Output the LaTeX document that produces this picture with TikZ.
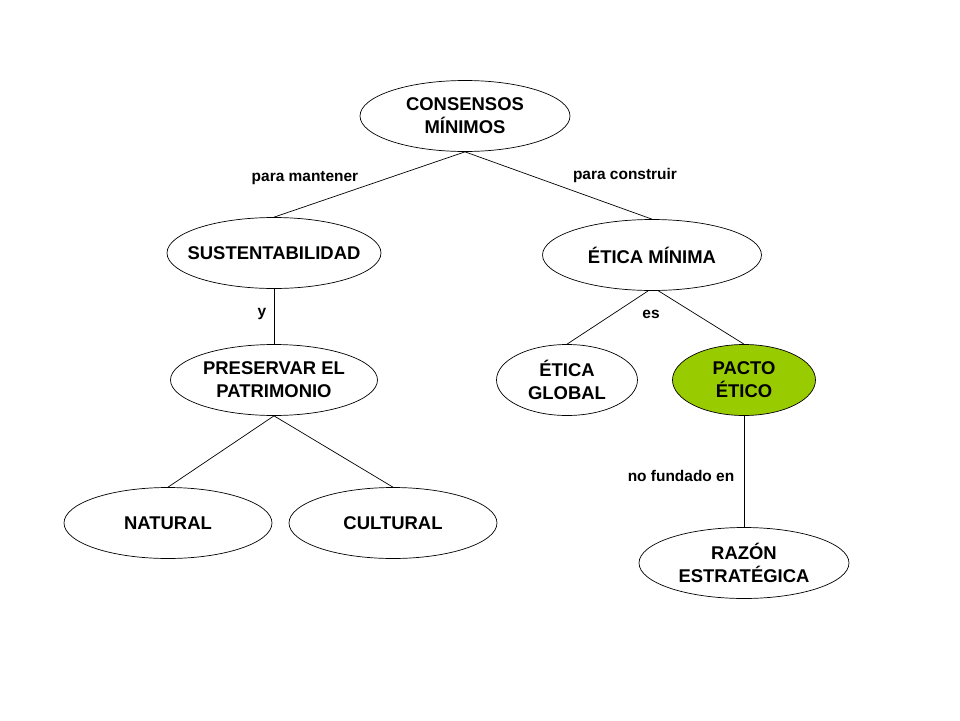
\documentclass[tikz,border=0pt]{standalone}
\usepackage{fontspec}
\setmainfont{Liberation Sans}
\usetikzlibrary{shapes.geometric}

\definecolor{pactogreen}{RGB}{153,204,0}

\begin{document}
\begin{tikzpicture}[x=0.02cm,y=-0.02cm,
	concept/.style={draw,ellipse,black,thin,inner sep=0pt,minimum width=4.2cm,minimum height=1.42cm,
		align=center,font=\fontsize{10.5}{13}\selectfont\bfseries},
	lbl/.style={font=\fontsize{8.8}{10}\selectfont\bfseries}]
	\useasboundingbox (0,0) rectangle (960,720);

	\node[concept] (cons) at (465,116) {CONSENSOS\\MÍNIMOS};
	\node[concept,minimum width=4.28cm,inner xsep=-0.22cm] (sust) at (274,253) {SUSTENTABILIDAD};
	\node[concept,minimum width=4.38cm] (etmin) at (652,255) {ÉTICA MÍNIMA};
	\node[concept,minimum width=4.14cm] (pres) at (274,380) {PRESERVAR EL\\PATRIMONIO};
	\node[concept,minimum width=2.82cm] (etglob) at (567,380) {ÉTICA\\GLOBAL};
	\node[concept,minimum width=2.86cm,fill=pactogreen] (pacto) at (744,380) {PACTO\\ÉTICO};
	\node[concept,minimum width=4.16cm] (nat) at (168,523) {NATURAL};
	\node[concept,minimum width=4.16cm] (cult) at (393,523) {CULTURAL};
	\node[concept] (razon) at (744,563) {RAZÓN\\ESTRATÉGICA};

	\draw (cons.south) -- (sust.north);
	\draw (cons.south) -- (etmin.north);
	\draw (sust.south) -- (pres.north);
	\draw (etmin.-96) -- (etglob.north);
	\draw (etmin.-80) -- (pacto.north);
	\draw (pres.south) -- (nat.north);
	\draw (pres.south) -- (cult.north);
	\draw (pacto.south) -- (razon.north);

	\node[lbl] (l1) at (305,178) {para mantener};
	\node[lbl] (l2) at (625,176) {para construir};
	\node[lbl] (l3) at (262,314) {y};
	\node[lbl] (l4) at (651,314) {es};
	\node[lbl] (l5) at (681,476) {no fundado en};
\end{tikzpicture}
\end{document}
